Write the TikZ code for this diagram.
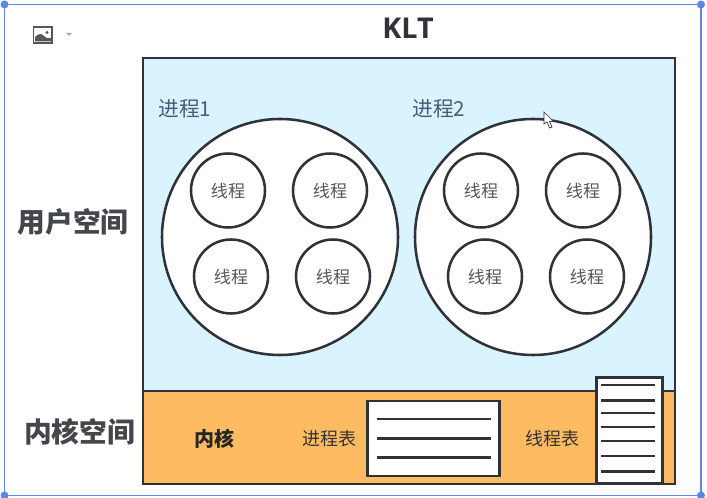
\documentclass[tikz,border=0pt]{standalone}
\usepackage{fontspec}
\setmainfont{Noto Sans CJK SC}
\newfontfamily\latinf{Open Sans}
\definecolor{ink}{HTML}{2F3238}
\definecolor{sky}{HTML}{D9F4FF}
\definecolor{amber}{HTML}{FFBB62}
\definecolor{sel}{HTML}{5C86E8}
\definecolor{lbl}{HTML}{4A5A78}
\definecolor{gry}{HTML}{55575C}
\tikzset{
  big/.style={circle,draw=ink,line width=1.9pt,fill=white,minimum size=177pt,inner sep=0pt},
  small/.style={circle,draw=ink,line width=1.9pt,fill=white,minimum size=55.5pt,inner sep=0pt,font=\fontsize{12.8pt}{13pt}\selectfont,text=gry},
  tab/.style={draw=ink,line width=1.9pt,fill=white,inner sep=0pt,outer sep=0pt},
  panel/.style={draw=ink,line width=1.9pt,inner sep=0pt,outer sep=0pt,anchor=north west},
  rowline/.style={ink,line width=1.6pt},
  side/.style={font=\fontsize{20.8pt}{21pt}\selectfont\bfseries,text=ink!90},
  tablbl/.style={font=\fontsize{13.5pt}{14pt}\selectfont,text=black!80},
  proclbl/.style={font=\fontsize{15.5pt}{16pt}\selectfont,text=lbl}
}
\begin{document}
\begin{tikzpicture}[x=0.75pt,y=-0.75pt]
\useasboundingbox[fill=white] (0,0) rectangle (707,498);
% selection frame
\coordinate (fa) at (4.5,4.5);
\coordinate (fb) at (701,495.5);
\draw[sel,line width=0.8pt] (fa) rectangle (fb);
\foreach \p in {(fa),(fb),(701,4.5),(4.5,495.5)} \fill[sel] \p circle (4);
% image icon
\draw[gry,line width=1pt,fill=white] (33.5,27) rectangle (52,43);
\fill[gry] (35,41.5) -- (35,37) .. controls (39,33) and (42,33) .. (45,37) .. controls (47,39) and (49,38) .. (51,38) -- (51,41.5) -- cycle;
\fill[gry] (47,32.5) circle (1.7);
\fill[gray!70] (66,33) -- (72,33) -- (69,36) -- cycle;
% title
\node[font=\fontsize{21.5pt}{22pt}\selectfont\bfseries\latinf,text=ink] (title) at (408,28.5) {KLT};
% panels
\node[panel,fill=sky,minimum width=399pt,minimum height=250pt] (user) at (143,58) {};
\node[panel,fill=amber,minimum width=399pt,minimum height=69.75pt] (kernel) at (143,391) {};
% labels
\node[side] (uspace) at (73,222) {用户空间};
\node[side] (kspace) at (79.5,432) {内核空间};
\node[proclbl] (p1) at (185,109) {进程1};
\node[proclbl] (p2) at (439,109) {进程2};
% processes
\node[big] (c1) at (280,237) {};
\node[big] (c2) at (533,237) {};
\node[small] (a1) at (228,190.5) {线程};
\node[small] (a2) at (330,190.5) {线程};
\node[small] (a3) at (231,276.5) {线程};
\node[small] (a4) at (333,276.5) {线程};
\node[small] (b1) at (481,190.5) {线程};
\node[small] (b2) at (583,190.5) {线程};
\node[small] (b3) at (485,276.5) {线程};
\node[small] (b4) at (587,276.5) {线程};
% kernel
\node[font=\fontsize{15pt}{16pt}\selectfont\bfseries,text=black!85] (kern) at (214.5,438.5) {内核};
\node[tablbl] (pt) at (329,439) {进程表};
\node[tablbl] (tt) at (552,439) {线程表};
\node[tab,minimum width=99pt,minimum height=56.25pt,anchor=north west] (ptab) at (367.5,401) {};
\node[tab,minimum width=49.5pt,minimum height=79.5pt,anchor=north west] (ttab) at (596.5,377.5) {};
\foreach \y in {419,438.5,457.5} \draw[rowline] (377,\y) -- (491,\y);
\foreach \y in {385,400.5,413,427,441,456,471.5} \draw[rowline] (601,\y) -- (655,\y);
% cursor
\draw[ink,fill=white,line width=0.5pt] (544,112) -- (544,124) -- (547,122) -- (549.5,128) -- (552,127) -- (549.5,121.5) -- (553,121) -- cycle;
\end{tikzpicture}
\end{document}
